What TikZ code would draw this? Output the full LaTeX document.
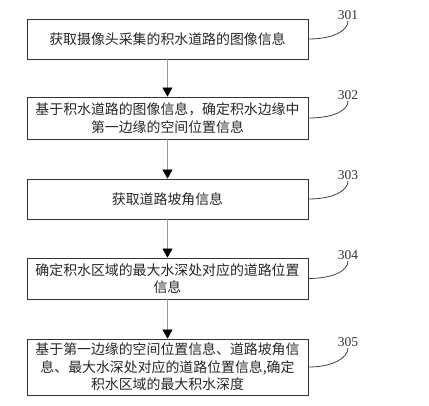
\documentclass[tikz,border=0pt]{standalone}
\usepackage{fontspec}
\setmainfont{Liberation Serif}
\newfontfamily\cjk{Noto Sans CJK SC}
\usetikzlibrary{arrows.meta}
\begin{document}
\begin{tikzpicture}[x=1pt,y=-1pt,
  stepbox/.style={draw=black!80, line width=0.8pt, minimum width=281pt, inner sep=0pt, align=center,
    font=\cjk\fontsize{13.9}{17.5}\selectfont, text=black!85},
  flow/.style={draw=black!40, line width=0.6pt, -{Triangle[length=9pt,width=10pt,black]}},
  tag/.style={font=\fontsize{13.5}{15}\selectfont, text=black!80, inner sep=1pt},
  lead/.style={draw=black!75, line width=0.8pt}]
\useasboundingbox (0,0) rectangle (429,405);
\node[stepbox, minimum height=40pt] (s1) at (167.5,39) {获取摄像头采集的积水道路的图像信息};
\node[stepbox, minimum height=42pt] (s2) at (167.5,118) {基于积水道路的图像信息，确定积水边缘中\\第一边缘的空间位置信息};
\node[stepbox, minimum height=40pt] (s3) at (167.5,199) {获取道路坡角信息};
\node[stepbox, minimum height=41pt] (s4) at (167.5,278.5) {确定积水区域的最大水深处对应的道路位置\\信息};
\node[stepbox, minimum height=56pt] (s5) at (167.5,367) {基于第一边缘的空间位置信息、道路坡角信\\息、最大水深处对应的道路位置信息,确定\\积水区域的最大积水深度};
\node[tag, anchor=south] (l1) at (348,21) {301};
\node[tag, anchor=south] (l2) at (348,101) {302};
\node[tag, anchor=south] (l3) at (348,181) {303};
\node[tag, anchor=south] (l4) at (348,261) {304};
\node[tag, anchor=south] (l5) at (348,348) {305};

\path[flow] (s1) -- (s2);
\path[flow] (s2) -- (s3);
\path[flow] (s3) -- (s4);
\path[flow] (s4) -- (s5);

\path[lead] (s1.east) .. controls +(24,0) and +(0,10) .. (l1.south);
\path[lead] (s2.east) .. controls +(24,0) and +(0,10) .. (l2.south);
\path[lead] (s3.east) .. controls +(24,0) and +(0,10) .. (l3.south);
\path[lead] (s4.east) .. controls +(24,0) and +(0,10) .. (l4.south);
\path[lead] (s5.east) .. controls +(24,0) and +(0,10) .. (l5.south);
\end{tikzpicture}
\end{document}
